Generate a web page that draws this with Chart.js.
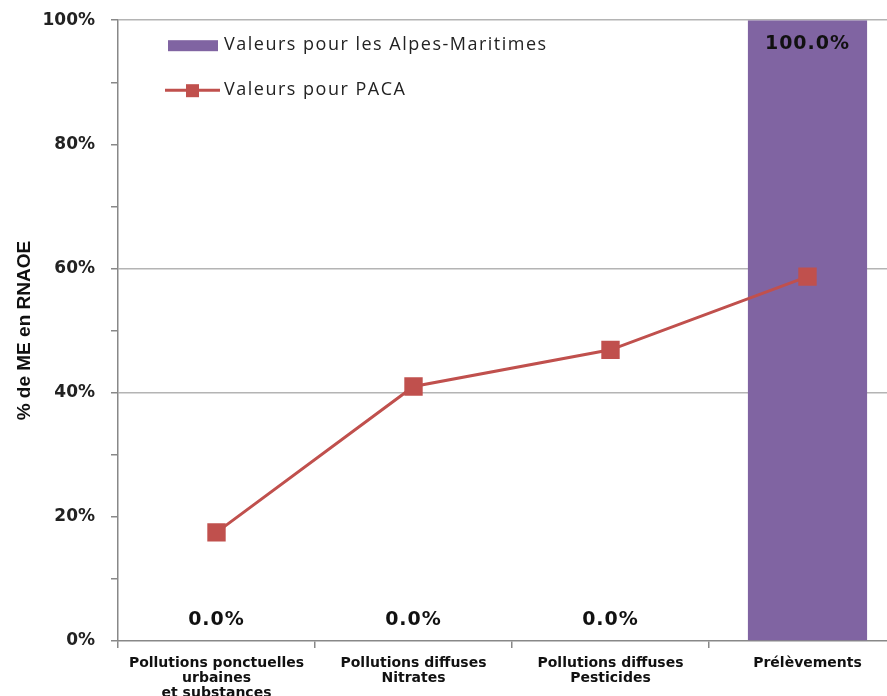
<!DOCTYPE html>
<html lang="fr">
<head>
<meta charset="utf-8">
<title>% de ME en RNAOE</title>
<script src="https://cdn.jsdelivr.net/npm/chart.js@4"></script>
<style>
  html, body { margin: 0; padding: 0; background: #fff; overflow: hidden; }
  #wrap { position: relative; top: -6px; width: 919px; height: 702px; }
</style>
</head>
<body>
<div id="wrap"><canvas id="rnaoeChart"></canvas></div>
<script>
  // Pressions à l'origine du risque de non atteinte des objectifs (RNAOE)
  var categories = [
    ["Pollutions ponctuelles", "urbaines", "et substances"],
    ["Pollutions diffuses", "Nitrates"],
    ["Pollutions diffuses", "Pesticides"],
    ["Prélèvements"]
  ];
  var alpesMaritimes = [0, 0, 0, 100];     // % de ME, Alpes-Maritimes
  var paca = [17.5, 41.0, 46.9, 58.7];     // % de ME, région PACA
  var seriesLabels = ["Valeurs pour les Alpes-Maritimes", "Valeurs pour PACA"];
  var yTicksShown = [0, 20, 40, 60, 80, 100];
  var yGridLines = [40, 60, 100];

  var PURPLE = "#8064A2";
  var RED = "#C0504D";

  // Value labels on the bars: above the base for 0, inside the top otherwise
  var barLabels = {
    id: "barLabels",
    afterDatasetsDraw: function (chart) {
      var ctx = chart.ctx;
      var meta = chart.getDatasetMeta(0);
      ctx.save();
      ctx.font = "bold 19px 'DejaVu Sans'";
      ctx.letterSpacing = "1px";
      ctx.fillStyle = "#111";
      ctx.textAlign = "center";
      ctx.textBaseline = "middle";
      meta.data.forEach(function (bar, i) {
        var v = alpesMaritimes[i];
        var y = v === 0 ? bar.base - 21 : bar.y + 24;
        ctx.fillText(v.toFixed(1) + "%", bar.x, y);
      });
      ctx.restore();
    }
  };

  // Legend sits inside the plot, top left
  var innerLegend = {
    id: "innerLegend",
    afterDraw: function (chart) {
      var ctx = chart.ctx;
      var x0 = chart.chartArea.left + 50;
      var y0 = chart.chartArea.top;
      ctx.save();
      ctx.fillStyle = PURPLE;
      ctx.fillRect(x0, y0 + 20, 50, 11);
      ctx.strokeStyle = RED;
      ctx.lineWidth = 3;
      ctx.beginPath();
      ctx.moveTo(x0 - 3, y0 + 70);
      ctx.lineTo(x0 + 52, y0 + 70);
      ctx.stroke();
      ctx.fillStyle = RED;
      ctx.fillRect(x0 + 18, y0 + 64, 13, 13);
      ctx.font = "18px 'Open Sans'";
      ctx.letterSpacing = "1.5px";
      ctx.fillStyle = "#222";
      ctx.textBaseline = "middle";
      ctx.fillText(seriesLabels[0], x0 + 56, y0 + 25);
      ctx.fillText(seriesLabels[1], x0 + 56, y0 + 70);
      ctx.restore();
    }
  };

  new Chart(document.getElementById("rnaoeChart"), {
    data: {
      labels: categories,
      datasets: [
        {
          type: "bar",
          label: seriesLabels[0],
          data: alpesMaritimes,
          backgroundColor: PURPLE,
          borderWidth: 0,
          categoryPercentage: 1,
          barPercentage: 0.605,
          order: 2
        },
        {
          type: "line",
          label: seriesLabels[1],
          data: paca,
          borderColor: RED,
          backgroundColor: RED,
          borderWidth: 3,
          pointStyle: "rect",
          pointRadius: 13,
          pointBorderWidth: 0,
          tension: 0,
          order: 1
        }
      ]
    },
    options: {
      responsive: true,
      maintainAspectRatio: false,
      animation: false,
      layout: { padding: { top: 1, right: 5, left: 0, bottom: 0 } },
      plugins: {
        legend: { display: false },
        tooltip: { enabled: false }
      },
      scales: {
        x: {
          offset: true,
          grid: {
            offset: true,
            drawOnChartArea: false,
            tickLength: 7,
            tickColor: "#888",
            lineWidth: 1.5
          },
          border: { color: "#888", width: 1.5 },
          ticks: {
            color: "#111",
            font: { family: "'DejaVu Sans'", size: 14, weight: "bold", lineHeight: 1.07 },
            padding: 8,
            maxRotation: 0,
            autoSkip: false
          },
          afterFit: function (scale) { scale.height = 55; }
        },
        y: {
          min: 0,
          max: 100,
          grid: {
            tickLength: 7,
            tickColor: "#888",
            lineWidth: 1.5,
            color: function (c) {
              return c.tick && yGridLines.indexOf(c.tick.value) >= 0 ? "#b4b4b4" : "transparent";
            }
          },
          border: { color: "#888", width: 1.5 },
          ticks: {
            stepSize: 10,
            color: "#222",
            padding: 16,
            font: { family: "'DejaVu Sans'", size: 17, weight: "bold" },
            callback: function (v) { return yTicksShown.indexOf(v) >= 0 ? v + "%" : ""; }
          },
          title: {
            display: true,
            text: "% de ME en RNAOE",
            color: "#111",
            font: { family: "'Liberation Sans'", size: 19, weight: "bold" },
            padding: { top: 13, bottom: 0 }
          },
          afterFit: function (scale) { scale.width = 118; }
        }
      }
    },
    plugins: [barLabels, innerLegend]
  });
</script>
</body>
</html>
